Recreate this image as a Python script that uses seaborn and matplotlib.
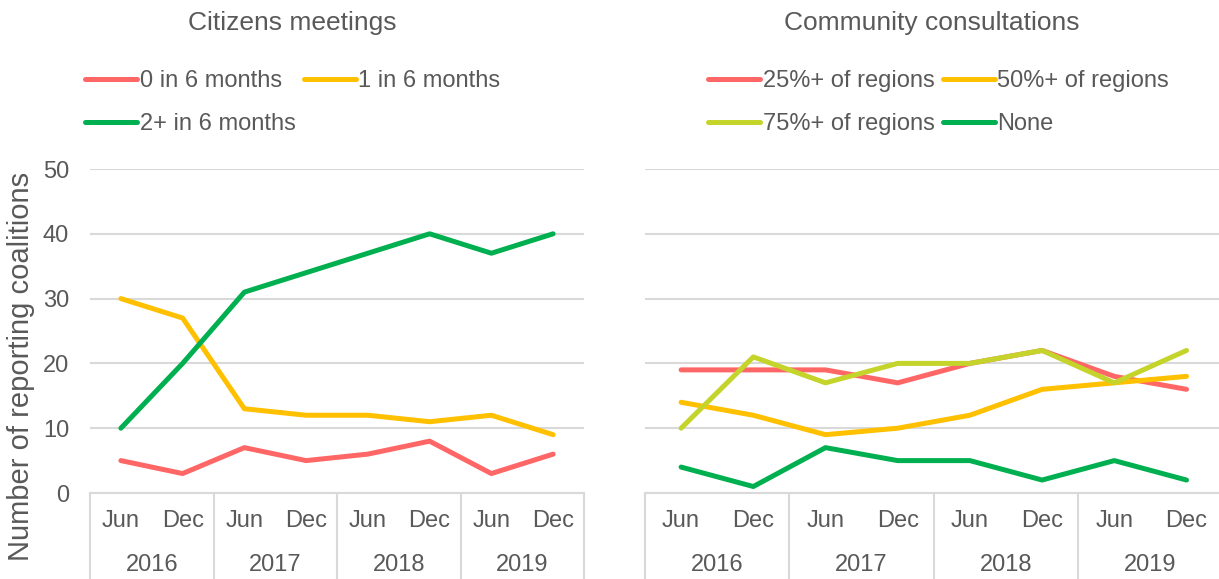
import numpy as np
import pandas as pd
import seaborn as sns
import matplotlib.pyplot as plt
from matplotlib.transforms import blended_transform_factory

months = ['Jun', 'Dec', 'Jun', 'Dec', 'Jun', 'Dec', 'Jun', 'Dec']
years = ['2016', '2017', '2018', '2019']

meet_labels = ['0 in 6 months', '1 in 6 months', '2+ in 6 months']
meet_zero = [5, 3, 7, 5, 6, 8, 3, 6]
meet_one = [30, 27, 13, 12, 12, 11, 12, 9]
meet_two = [10, 20, 31, 34, 37, 40, 37, 40]

cons_labels = ['25%+ of regions', '50%+ of regions', '75%+ of regions', 'None']
cons_25 = [19, 19, 19, 17, 20, 22, 18, 16]
cons_50 = [14, 12, 9, 10, 12, 16, 17, 18]
cons_75 = [10, 21, 17, 20, 20, 22, 17, 22]
cons_none = [4, 1, 7, 5, 5, 2, 5, 2]

red = '#FF6666'
yellow = '#FFC000'
green = '#00B050'
lime = '#C4D42A'
txt = '#595959'
grid = '#D9D9D9'

sns.set_style('white')
plt.rcParams['font.family'] = ['Liberation Sans', 'DejaVu Sans']


def long_df(labels, series):
    rows = []
    for lab, vals in zip(labels, series):
        for i, v in enumerate(vals):
            rows.append({'pos': i, 'value': v, 'series': lab})
    return pd.DataFrame(rows)


df_meet = long_df(meet_labels, [meet_zero, meet_one, meet_two])
df_cons = long_df(cons_labels, [cons_25, cons_50, cons_75, cons_none])

fig = plt.figure(figsize=(12.19, 5.79), dpi=100)
W, H = 1219, 579
y0, y50 = 493, 169
ax1 = fig.add_axes([90 / W, (H - y0) / H, (584 - 90) / W, (y0 - y50) / H])
ax2 = fig.add_axes([645 / W, (H - y0) / H, (1219 - 645) / W, (y0 - y50) / H])

sns.lineplot(data=df_meet, x='pos', y='value', hue='series', hue_order=meet_labels,
             palette=[red, yellow, green], linewidth=3.6, ax=ax1)
sns.lineplot(data=df_cons, x='pos', y='value', hue='series', hue_order=cons_labels,
             palette=[red, yellow, lime, green], linewidth=3.6, ax=ax2)

fs = 17
for ax, xmax in [(ax1, 7.5), (ax2, 7.45)]:
    for ln in ax.get_lines():
        ln.set_solid_capstyle('round')
        ln.set_solid_joinstyle('round')
    ax.set_xlim(-0.5, xmax)
    ax.set_ylim(0, 50)
    ax.set_yticks([0, 10, 20, 30, 40, 50])
    ax.yaxis.grid(True, color=grid, linewidth=1.5)
    ax.set_axisbelow(True)
    for s in ['top', 'right', 'left']:
        ax.spines[s].set_visible(False)
    ax.spines['bottom'].set_color(grid)
    ax.spines['bottom'].set_linewidth(1.5)
    ax.set_xticks(range(8))
    ax.set_xticklabels(months)
    ax.tick_params(axis='x', length=0, pad=12, labelsize=fs, labelcolor=txt)
    ax.tick_params(axis='y', length=0, labelsize=fs, labelcolor=txt, pad=15)
    ax.set_xlabel('')
    ax.set_ylabel('')
    tr = blended_transform_factory(ax.transData, ax.transAxes)
    for b in [-0.5, 1.5, 3.5, 5.5, 7.5]:
        ax.plot([b, b], [0, -0.3], transform=tr, color=grid, lw=1.5, clip_on=False)
    for k, yr in enumerate(years):
        ax.text(2 * k + 0.5, -0.222, yr, transform=tr, ha='center', va='center',
                fontsize=fs, color=txt)

ax2.set_yticklabels([])
ax1.set_ylabel('Number of reporting coalitions', fontsize=21, color=txt)
ax1.yaxis.set_label_coords(-0.112, 0.39)

leg_kw = dict(loc='upper left', frameon=False, fontsize=fs, handlelength=2.2,
              handletextpad=0.1, columnspacing=0.35, labelspacing=0.88,
              labelcolor=txt, borderaxespad=0)
# row-major order for a 2-column legend
h, l = ax1.get_legend_handles_labels()
order = [0, 2, 1]
ax1.legend([h[i] for i in order], [l[i] for i in order], ncol=2,
           bbox_to_anchor=(76 / W, 1 - 61 / H), bbox_transform=fig.transFigure, **leg_kw)
h, l = ax2.get_legend_handles_labels()
order = [0, 2, 1, 3]
ax2.legend([h[i] for i in order], [l[i] for i in order], ncol=2,
           bbox_to_anchor=(699 / W, 1 - 61 / H), bbox_transform=fig.transFigure, **leg_kw)

fig.text(292 / W, 1 - 23 / H, 'Citizens meetings', ha='center', va='center',
         fontsize=19, color=txt)
fig.text(932 / W, 1 - 23 / H, 'Community consultations', ha='center', va='center',
         fontsize=19, color=txt)

fig.savefig('out.png', dpi=100)
